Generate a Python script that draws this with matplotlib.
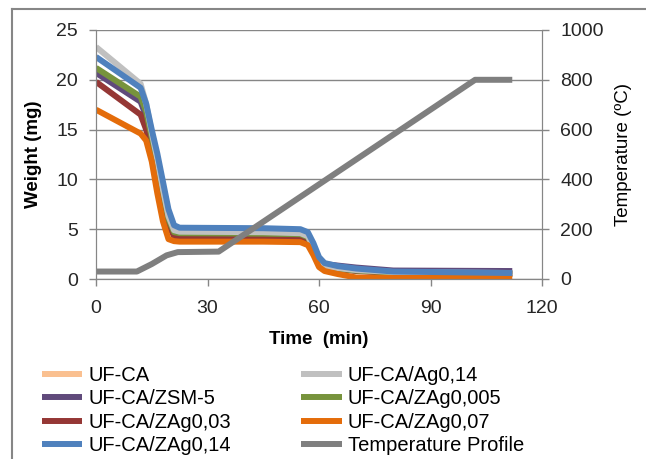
import matplotlib
matplotlib.use("Agg")
import matplotlib.pyplot as plt
from matplotlib.lines import Line2D

plt.rcParams['font.family'] = ['Liberation Sans', 'DejaVu Sans']

# time grid shared by the weight curves (min)
time_min = [0, 12, 13.5, 15, 16.5, 18, 19.5, 21, 22.5, 45, 55, 57, 58.5, 60, 61.5, 65, 70, 80, 112]

# weight loss curves (mg)
uf_ca = [21.0, 18.1, 16.6, 14.0, 11.4, 8.5, 5.9, 4.6, 4.55, 4.5, 4.45, 4.15, 3.1, 1.7, 1.25, 1.05, 0.85, 0.65, 0.55]
uf_ca_ag014 = [23.3, 19.6, 17.6, 14.7, 12.0, 9.0, 6.3, 4.9, 4.75, 4.7, 4.6, 4.3, 3.2, 1.8, 1.3, 1.1, 0.9, 0.7, 0.6]
uf_ca_zsm5 = [20.7, 17.8, 16.3, 13.8, 11.2, 8.4, 5.8, 4.6, 4.5, 4.45, 4.4, 4.1, 3.1, 1.8, 1.5, 1.35, 1.15, 0.85, 0.8]
uf_ca_zag0005 = [21.2, 18.3, 16.8, 14.2, 11.6, 8.7, 6.0, 4.7, 4.6, 4.55, 4.5, 4.2, 3.1, 1.7, 1.25, 1.05, 0.85, 0.65, 0.55]
uf_ca_zag003 = [19.8, 16.5, 15.0, 12.8, 10.4, 7.8, 5.4, 4.3, 4.25, 4.2, 4.15, 3.9, 2.9, 1.6, 1.2, 1.0, 0.8, 0.6, 0.5]
uf_ca_zag007 = [17.0, 14.6, 13.9, 11.8, 8.6, 5.8, 4.0, 3.8, 3.75, 3.75, 3.7, 3.4, 2.4, 1.2, 0.8, 0.5, 0.15, 0.1, 0.1]
uf_ca_zag014 = [22.3, 19.2, 17.6, 15.0, 12.6, 9.8, 7.0, 5.4, 5.15, 5.1, 5.0, 4.7, 3.6, 2.2, 1.6, 1.3, 1.05, 0.75, 0.6]

# furnace temperature program
temp_time = [0, 11, 15, 19, 22, 33, 102, 112]
temp_c = [30, 30, 60, 95, 108, 110, 800, 800]

series = [
    ("UF-CA", uf_ca, "#FAC090"),
    ("UF-CA/ZSM-5", uf_ca_zsm5, "#604A7B"),
    ("UF-CA/ZAg0,03", uf_ca_zag003, "#953735"),
    ("UF-CA/ZAg0,005", uf_ca_zag0005, "#77933C"),
    ("UF-CA/Ag0,14", uf_ca_ag014, "#C0C0C0"),
    ("UF-CA/ZAg0,07", uf_ca_zag007, "#E46C0A"),
    ("UF-CA/ZAg0,14", uf_ca_zag014, "#4F81BD"),
]
legend_order = ["UF-CA", "UF-CA/ZSM-5", "UF-CA/ZAg0,03", "UF-CA/ZAg0,14",
                "UF-CA/Ag0,14", "UF-CA/ZAg0,005", "UF-CA/ZAg0,07", "Temperature Profile"]

axis_grey = "#868686"
text_col = "#262626"

fig = plt.figure(figsize=(6.46, 4.59), dpi=100)
ax = fig.add_axes([96 / 646, 1 - 279 / 459, 446 / 646, 249 / 459])
ax2 = ax.twinx()

handles = {}
for name, vals, col in series:
    line, = ax.plot(time_min, vals, color=col, lw=4.3, solid_capstyle='butt', label=name)
    handles[name] = line
tline, = ax2.plot(temp_time, temp_c, color="#7F7F7F", lw=4.3, solid_capstyle='butt',
                  label="Temperature Profile")
handles["Temperature Profile"] = tline

ax.set_xlim(0, 120)
ax.set_ylim(0, 25)
ax.set_xticks([0, 30, 60, 90, 120])
ax.set_yticks([0, 5, 10, 15, 20, 25])
ax2.set_ylim(0, 1000)
ax2.set_yticks([0, 200, 400, 600, 800, 1000])

ax.grid(axis='y', color=axis_grey, lw=1)
ax.set_axisbelow(True)
for a in (ax, ax2):
    a.spines['top'].set_visible(False)
    for s in ('left', 'right', 'bottom'):
        a.spines[s].set_color(axis_grey)
    a.tick_params(colors=axis_grey, labelcolor=text_col, labelsize=14, length=5, width=1, pad=8)
ax.tick_params(axis='x', pad=10)

ax.set_xlabel("Time  (min)", fontsize=13.5, fontweight='bold', labelpad=10)
ax.set_ylabel("Weight (mg)", fontsize=13.5, fontweight='bold', labelpad=10)
ax2.set_ylabel("Temperature (ºC)", fontsize=13.5, labelpad=8)

fig.legend([handles[n] for n in legend_order], legend_order, ncol=2, frameon=False,
           loc='upper left', bbox_to_anchor=(42 / 646, 1 - 366 / 459),
           fontsize=14.5, handlelength=2.0, handletextpad=0.3, labelspacing=0.22,
           columnspacing=3.5, borderpad=0, borderaxespad=0)

# outer chart frame
fig.add_artist(Line2D([12 / 646, 12 / 646], [0, 1 - 9 / 459], color=axis_grey, lw=1.5,
                      transform=fig.transFigure))
fig.add_artist(Line2D([12 / 646, 1], [1 - 9 / 459, 1 - 9 / 459], color=axis_grey, lw=1.5,
                      transform=fig.transFigure))

fig.savefig("out.png", dpi=100)
